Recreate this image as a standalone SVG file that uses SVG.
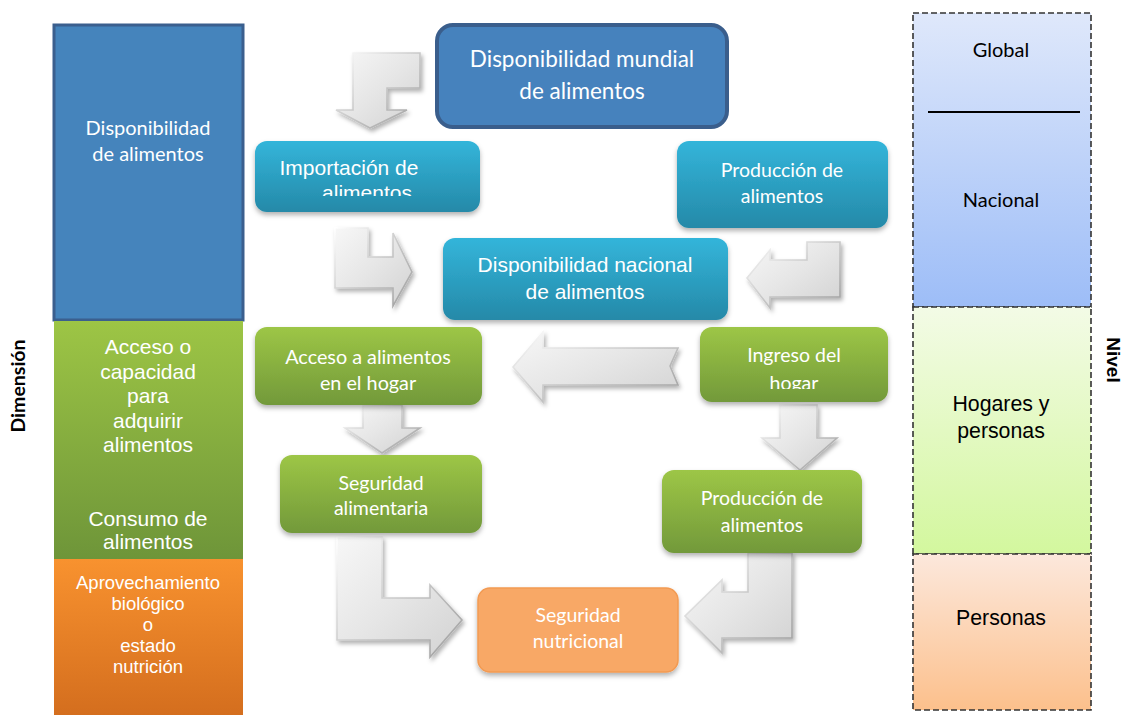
<svg xmlns="http://www.w3.org/2000/svg" width="1125" height="715" viewBox="0 0 1125 715">
<defs>
<linearGradient id="gTeal" x1="0" y1="0" x2="0" y2="1"><stop offset="0" stop-color="#33B5DA"/><stop offset="1" stop-color="#2589A8"/></linearGradient>
<linearGradient id="gGreen" x1="0" y1="0" x2="0" y2="1"><stop offset="0" stop-color="#9DC646"/><stop offset="1" stop-color="#72993A"/></linearGradient>
<linearGradient id="gColGreen" x1="0" y1="0" x2="0" y2="1"><stop offset="0" stop-color="#9DC545"/><stop offset="1" stop-color="#6E9539"/></linearGradient>
<linearGradient id="gColOrange" x1="0" y1="0" x2="0" y2="1"><stop offset="0" stop-color="#F8922F"/><stop offset="1" stop-color="#D46E1E"/></linearGradient>
<linearGradient id="gLvBlue" x1="0" y1="0" x2="0" y2="1"><stop offset="0" stop-color="#DFE8FB"/><stop offset="1" stop-color="#9DBDF7"/></linearGradient>
<linearGradient id="gLvGreen" x1="0" y1="0" x2="0" y2="1"><stop offset="0" stop-color="#F3FBE6"/><stop offset="1" stop-color="#D3F79E"/></linearGradient>
<linearGradient id="gLvOrange" x1="0" y1="0" x2="0" y2="1"><stop offset="0" stop-color="#FCE8DC"/><stop offset="1" stop-color="#FCC08C"/></linearGradient>
<linearGradient id="gArrow" x1="0" y1="0" x2="1" y2="1"><stop offset="0" stop-color="#F7F7F7"/><stop offset="0.5" stop-color="#E6E6E6"/><stop offset="1" stop-color="#D2D2D2"/></linearGradient>
<linearGradient id="gArrowEdge" x1="0" y1="0" x2="1" y2="1"><stop offset="0" stop-color="#FFFFFF"/><stop offset="0.5" stop-color="#C8C8C8"/><stop offset="1" stop-color="#9E9E9E"/></linearGradient>
<filter id="shadow" x="-20%" y="-20%" width="140%" height="150%"><feDropShadow dx="0" dy="3" stdDeviation="2.5" flood-color="#000" flood-opacity="0.3"/></filter>
<filter id="ashadow" x="-20%" y="-20%" width="150%" height="150%"><feDropShadow dx="2" dy="3" stdDeviation="2" flood-color="#000" flood-opacity="0.3"/></filter>
<clipPath id="clipImp"><rect x="250" y="135" width="240" height="61"/></clipPath>
<clipPath id="clipIng"><rect x="695" y="320" width="200" height="69"/></clipPath>
</defs>
<style>
.cal{font-family:Lato,"Open Sans","Liberation Sans",sans-serif;text-anchor:middle;fill:#fff}
.ari{font-family:"Liberation Sans",Arial,sans-serif;text-anchor:middle;fill:#fff}
.dk{fill:#000}
.arrow{fill:url(#gArrow);stroke:url(#gArrowEdge);stroke-width:1.6;stroke-linejoin:miter;filter:url(#ashadow)}
.teal{fill:url(#gTeal);filter:url(#shadow)}
.green{fill:url(#gGreen);filter:url(#shadow)}
.lv{stroke:#333;stroke-width:1.6;stroke-dasharray:6 3}
</style>
<rect width="1125" height="715" fill="#fff"/>

<g id="dimension-column">
<rect x="54" y="25" width="189" height="295" fill="#4584BC" stroke="#3B5F8E" stroke-width="3"/>
<text class="cal" x="148" y="135" font-size="20">Disponibilidad</text>
<text class="cal" x="148" y="161" font-size="20">de alimentos</text>
<rect x="54" y="321" width="189" height="238" fill="url(#gColGreen)"/>
<text class="ari" x="148" y="354" font-size="21">Acceso o</text>
<text class="ari" x="148" y="379" font-size="21">capacidad</text>
<text class="ari" x="148" y="403" font-size="21">para</text>
<text class="ari" x="148" y="428" font-size="21">adquirir</text>
<text class="ari" x="148" y="452" font-size="21">alimentos</text>
<text class="ari" x="148" y="526" font-size="21">Consumo de</text>
<text class="ari" x="148" y="549" font-size="21">alimentos</text>
<rect x="54" y="559" width="189" height="156" fill="url(#gColOrange)"/>
<text class="ari" x="148" y="589" font-size="18.5">Aprovechamiento</text>
<text class="ari" x="148" y="610" font-size="18.5">biológico</text>
<text class="ari" x="148" y="631" font-size="18.5">o</text>
<text class="ari" x="148" y="652" font-size="18.5">estado</text>
<text class="ari" x="148" y="673" font-size="18.5">nutrición</text>
<text class="cal dk" font-size="19.5" font-weight="bold" transform="translate(25,386) rotate(-90)">Dimensión</text>
</g>

<g id="level-column">
<rect class="lv" x="913" y="13" width="178" height="294" fill="url(#gLvBlue)"/>
<line x1="928" y1="112" x2="1080" y2="112" stroke="#000" stroke-width="2"/>
<text class="cal dk" x="1001" y="57" font-size="20">Global</text>
<text class="cal dk" x="1001" y="207" font-size="20">Nacional</text>
<rect class="lv" x="913" y="307" width="178" height="247" fill="url(#gLvGreen)"/>
<text class="ari dk" x="1001" y="411" font-size="21.3">Hogares y</text>
<text class="ari dk" x="1001" y="438" font-size="21.3">personas</text>
<rect class="lv" x="913" y="554" width="178" height="156" fill="url(#gLvOrange)"/>
<text class="ari dk" x="1001" y="625" font-size="21.3">Personas</text>
<text class="ari dk" font-size="19" font-weight="bold" transform="translate(1107,360) rotate(90)">Nivel</text>
</g>

<g id="connectors">
<polygon class="arrow" points="353,53 420,53 420,88 387,88 387,110 407,110 370,128 336,110 353,110"/>
<polygon class="arrow" points="335,228 368,228 368,257 393,257 393,233 412,272 393,306 393,288 335,288"/>
<polygon class="arrow" points="807,242 840,242 840,297 770,297 770,308 747,278 770,250 770,260 807,260"/>
<polygon class="arrow" points="678,348 543,348 543,332 513,367 543,402 543,385 678,385 670,366"/>
<polygon class="arrow" points="363,405 402,405 402,428 420,428 382,453 345,428 363,428"/>
<polygon class="arrow" points="780,405 817,405 817,438 837,438 800,470 762,438 780,438"/>
<polygon class="arrow" points="337,537 382,537 382,598 430,598 430,585 462,620 430,657 430,640 337,640"/>
<polygon class="arrow" points="748,553 792,553 792,638 722,638 722,653 685,616 722,580 722,592 748,592"/>
</g>

<g id="node-mundial">
<rect x="437" y="25" width="290" height="102" rx="16" fill="#4682BD" stroke="#3A5E8C" stroke-width="4"/>
<text class="cal" x="582" y="67" font-size="22.5">Disponibilidad mundial</text>
<text class="cal" x="582" y="99" font-size="22.5">de alimentos</text>
</g>

<g id="node-importacion">
<rect class="teal" x="255" y="141" width="225" height="71" rx="12"/>
<g clip-path="url(#clipImp)">
<text class="ari" x="349" y="175" font-size="21">Importación de</text>
<text class="ari" x="367" y="200" font-size="21">alimentos</text>
</g>
</g>

<g id="node-produccion-top">
<rect class="teal" x="677" y="141" width="211" height="87" rx="12"/>
<text class="cal" x="782" y="177" font-size="19.5">Producción de</text>
<text class="cal" x="782" y="203" font-size="19.5">alimentos</text>
</g>

<g id="node-nacional">
<rect class="teal" x="443" y="238" width="285" height="82" rx="12"/>
<text class="ari" x="585" y="272" font-size="21">Disponibilidad nacional</text>
<text class="ari" x="585" y="299" font-size="21">de alimentos</text>
</g>

<g id="node-acceso">
<rect class="green" x="255" y="327" width="227" height="78" rx="12"/>
<text class="cal" x="368" y="364" font-size="19.8">Acceso a alimentos</text>
<text class="cal" x="368" y="390" font-size="19.8">en el hogar</text>
</g>

<g id="node-ingreso">
<rect class="green" x="700" y="327" width="188" height="75" rx="12"/>
<g clip-path="url(#clipIng)">
<text class="cal" x="794" y="362" font-size="19.5">Ingreso del</text>
<text class="cal" x="794" y="390" font-size="19.5">hogar</text>
</g>
</g>

<g id="node-seguridad-alimentaria">
<rect class="green" x="280" y="455" width="202" height="78" rx="12"/>
<text class="cal" x="381" y="490" font-size="19.5">Seguridad</text>
<text class="cal" x="381" y="515" font-size="19.5">alimentaria</text>
</g>

<g id="node-produccion-green">
<rect class="green" x="662" y="470" width="200" height="83" rx="12"/>
<text class="cal" x="762" y="505" font-size="19.5">Producción de</text>
<text class="cal" x="762" y="532" font-size="19.5">alimentos</text>
</g>

<g id="node-seguridad-nutricional">
<rect x="478" y="588" width="200" height="84" rx="12" fill="#F8A866" stroke="#F29A52" stroke-width="1.5" filter="url(#shadow)"/>
<text class="cal" x="578" y="622" font-size="19.5">Seguridad</text>
<text class="cal" x="578" y="648" font-size="19.5">nutricional</text>
</g>
</svg>
